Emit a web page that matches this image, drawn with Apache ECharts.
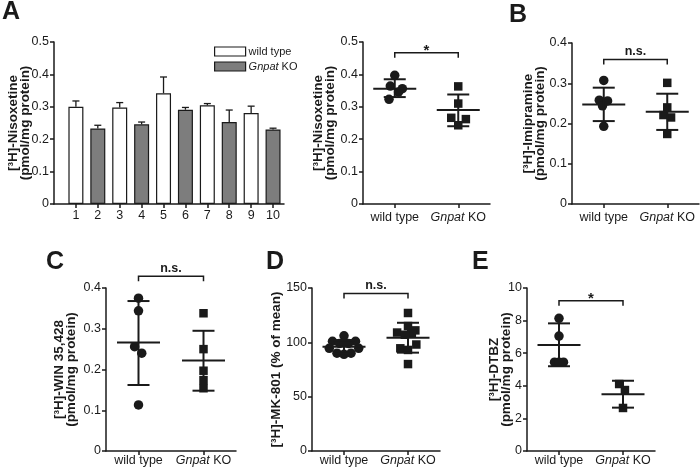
<!DOCTYPE html>
<html lang="en">
<head>
	<meta charset="UTF-8">
	<title>Binding assays</title>
	<style>
		*{
			margin: 0;
			padding: 0;
		}
		#chart{
			width: 700px;
			height: 470px;
			background: #fff;
		}
	</style>
	<script src="https://cdn.jsdelivr.net/npm/echarts@6.0.0/dist/echarts.min.js"></script>
</head>
<body>
	<div id="chart"></div>
	<script>
		var groups = ['wild type', 'Gnpat KO'];

		// A, left: single animals
		var barCats = ['1', '2', '3', '4', '5', '6', '7', '8', '9', '10'];
		var barVals = [0.300, 0.233, 0.298, 0.246, 0.342, 0.291, 0.305, 0.253, 0.281, 0.230];
		var barErr = [0.018, 0.010, 0.015, 0.007, 0.050, 0.007, 0.005, 0.037, 0.021, 0.004];

		// A, right: nisoxetine
		var aWt = [0.397, 0.364, 0.356, 0.346, 0.323];
		var aWtJit = [0, -0.07, 0.12, 0.06, -0.09];
		var aKo = [0.363, 0.310, 0.266, 0.262, 0.243];
		var aKoJit = [0, 0, -0.11, 0.12, 0];
		var aStats = [[0.356, 0.330, 0.385], [0.290, 0.240, 0.338]];

		// B: imipramine
		var bWt = [0.307, 0.258, 0.256, 0.244, 0.193];
		var bWtJit = [0, -0.07, 0.06, -0.02, 0];
		var bKo = [0.301, 0.240, 0.221, 0.215, 0.174];
		var bKoJit = [0, 0, -0.06, 0.06, 0];
		var bStats = [[0.247, 0.206, 0.289], [0.229, 0.184, 0.274]];

		// C: WIN 35,428
		var cWt = [0.375, 0.344, 0.256, 0.240, 0.113];
		var cWtJit = [0, 0, -0.06, 0.05, 0];
		var cKo = [0.338, 0.250, 0.197, 0.174, 0.154];
		var cKoJit = [0, 0, 0, 0, 0];
		var cStats = [[0.266, 0.162, 0.368], [0.222, 0.148, 0.295]];

		// D: MK-801
		var dWt = [106, 101, 101, 99, 99, 94.5, 94.5, 90, 89, 90];
		var dWtJit = [0, -0.18, 0.18, -0.07, 0.07, -0.23, 0.23, -0.11, 0, 0.11];
		var dKo = [127, 115, 111, 109, 108, 107, 98, 94.5, 93, 80];
		var dKoJit = [0, 0, 0.115, -0.17, 0.06, -0.05, 0.13, -0.12, 0, 0];
		var dStats = [[96, 90, 102], [104.3, 90.5, 118]];

		// E: DTBZ
		var eWt = [8.14, 7.05, 5.45, 5.45, 5.45];
		var eWtJit = [0, 0, -0.07, 0, 0.07];
		var eKo = [4.11, 3.74, 2.64];
		var eKoJit = [-0.06, 0.03, 0];
		var eStats = [[6.5, 5.2, 7.83], [3.48, 2.66, 4.31]];

		var sigText = ['*', 'n.s.', 'n.s.', 'n.s.', '*'];
		var sigY = [0.467, 0.359, 0.429, 145, 9.22];

		var font = '"Liberation Sans", Arial, sans-serif';
		var ink = '#1a1a1a';

		function koLabel(s) {
			return s === 'Gnpat KO' ? '{i|Gnpat} KO' : s;
		}

		var panels = [
			{wt: aWt, wtJit: aWtJit, ko: aKo, koJit: aKoJit, stats: aStats, max: 0.5, step: 0.1, dec: 1,
				name: '[³H]-Nisoxetine\n(pmol/mg protein)', gap: 26, lm: 7},
			{wt: bWt, wtJit: bWtJit, ko: bKo, koJit: bKoJit, stats: bStats, max: 0.4, step: 0.1, dec: 1,
				name: '[³H]-Imipramine\n(pmol/mg protein)', gap: 25, lm: 7},
			{wt: cWt, wtJit: cWtJit, ko: cKo, koJit: cKoJit, stats: cStats, max: 0.4, step: 0.1, dec: 1,
				name: '[³H]-WIN 35,428\n(pmol/mg protein)', gap: 28, lm: 3},
			{wt: dWt, wtJit: dWtJit, ko: dKo, koJit: dKoJit, stats: dStats, max: 150, step: 50, dec: 0,
				name: '[³H]-MK-801 (% of mean)', gap: 29, lm: 3},
			{wt: eWt, wtJit: eWtJit, ko: eKo, koJit: eKoJit, stats: eStats, max: 10, step: 2, dec: 0,
				name: '[³H]-DTBZ\n(pmol/mg protein)', gap: 14, lm: 3}
		];

		var grids = [
			{left: 54, top: 42, width: 230, height: 162},
			{left: 363, top: 42, width: 127, height: 162},
			{left: 572, top: 43, width: 127, height: 161},
			{left: 106, top: 288, width: 130, height: 163},
			{left: 312, top: 288, width: 128, height: 163},
			{left: 527, top: 288, width: 128, height: 163}
		];
		grids.forEach(function (g) { g.outerBoundsMode = 'none'; });

		var lineStyle = {color: ink, width: 1.5};

		function yAxisCfg(idx, max, step, dec, name, gap) {
			return {
				type: 'value', gridIndex: idx, min: 0, max: max, interval: step,
				name: name, nameLocation: 'middle', nameRotate: 90, nameGap: gap, nameMoveOverlap: false,
				nameTextStyle: {fontFamily: font, fontWeight: 'bold', fontSize: 13.5, lineHeight: 12.5, color: ink},
				axisLine: {show: true, onZero: false, lineStyle: lineStyle},
				axisTick: {show: true, length: 4, lineStyle: lineStyle},
				axisLabel: {fontFamily: font, fontSize: 12.5, color: ink, margin: 5,
					formatter: function (v) { return v === 0 ? '0' : v.toFixed(dec); }},
				splitLine: {show: false}
			};
		}

		function xAxisCfg(idx, margin) {
			return {
				type: 'value', gridIndex: idx, min: -0.5, max: 1.5,
				axisLine: {show: true, onZero: false, lineStyle: lineStyle},
				axisTick: {show: true, length: 4, customValues: [0, 1], lineStyle: lineStyle},
				axisLabel: {
					customValues: [0, 1], fontFamily: font, fontSize: 12.5, color: ink, margin: margin,
					formatter: function (v) { return koLabel(groups[v]); },
					rich: {i: {fontStyle: 'italic', fontFamily: font, fontSize: 12.5, color: ink}}
				},
				splitLine: {show: false}
			};
		}

		var barTicks = barCats.map(function (c, i) { return i + 1; });
		var xAxes = [{
			type: 'value', gridIndex: 0, min: 0, max: 10.5,
			axisLine: {show: true, onZero: false, lineStyle: lineStyle},
			axisTick: {show: true, length: 4, customValues: barTicks, lineStyle: lineStyle},
			axisLabel: {
				customValues: barTicks, fontFamily: font, fontSize: 12.5, color: ink, margin: 5,
				formatter: function (v) { return barCats[v - 1]; }
			},
			splitLine: {show: false}
		}];
		var yAxes = [yAxisCfg(0, 0.5, 0.1, 1, '[³H]-Nisoxetine\n(pmol/mg protein)', 22)];

		var series = [];
		var wtBars = [], koBars = [];
		barVals.forEach(function (v, i) {
			if (i % 2 === 0) wtBars.push([i + 1, v]); else koBars.push([i + 1, v]);
		});
		series.push({
			name: groups[0], type: 'bar', xAxisIndex: 0, yAxisIndex: 0, barWidth: 15, barGap: '-100%',
			itemStyle: {color: '#ffffff', borderColor: ink, borderWidth: 1.2}, data: wtBars
		});
		series.push({
			name: groups[1], type: 'bar', xAxisIndex: 0, yAxisIndex: 0, barWidth: 15, barGap: '-100%',
			itemStyle: {color: '#7d7d7d', borderColor: ink, borderWidth: 1.2}, data: koBars
		});
		// one-sided error bars on top of the bars
		series.push({
			type: 'custom', xAxisIndex: 0, yAxisIndex: 0, z: 3,
			data: barVals.map(function (v, i) { return [i + 1, v, v + barErr[i]]; }),
			renderItem: function (params, api) {
				var p0 = api.coord([api.value(0), api.value(1)]);
				var p1 = api.coord([api.value(0), api.value(2)]);
				var st = {stroke: ink, lineWidth: 1.3};
				return {type: 'group', children: [
					{type: 'line', shape: {x1: p0[0], y1: p0[1], x2: p1[0], y2: p1[1]}, style: st},
					{type: 'line', shape: {x1: p1[0] - 3.5, y1: p1[1], x2: p1[0] + 3.5, y2: p1[1]}, style: st}
				]};
			}
		});

		function meanSdRender(params, api) {
			var x = api.value(0);
			var pm = api.coord([x, api.value(1)]);
			var pl = api.coord([x, api.value(2)]);
			var ph = api.coord([x, api.value(3)]);
			var st = {stroke: ink, lineWidth: 2};
			return {type: 'group', children: [
				{type: 'line', shape: {x1: pm[0] - 21.5, y1: pm[1], x2: pm[0] + 21.5, y2: pm[1]}, style: st},
				{type: 'line', shape: {x1: pl[0], y1: pl[1], x2: ph[0], y2: ph[1]}, style: st},
				{type: 'line', shape: {x1: pl[0] - 11, y1: pl[1], x2: pl[0] + 11, y2: pl[1]}, style: st},
				{type: 'line', shape: {x1: ph[0] - 11, y1: ph[1], x2: ph[0] + 11, y2: ph[1]}, style: st}
			]};
		}

		panels.forEach(function (p, k) {
			var g = k + 1;
			xAxes.push(xAxisCfg(g, p.lm));
			yAxes.push(yAxisCfg(g, p.max, p.step, p.dec, p.name, p.gap));
			series.push({
				type: 'scatter', xAxisIndex: g, yAxisIndex: g, symbol: 'circle', symbolSize: 9.5,
				itemStyle: {color: ink, opacity: 1}, z: 2,
				data: p.wt.map(function (v, i) { return [p.wtJit[i], v]; })
			});
			series.push({
				type: 'scatter', xAxisIndex: g, yAxisIndex: g, symbol: 'rect', symbolSize: 8.5,
				itemStyle: {color: ink, opacity: 1}, z: 2,
				data: p.ko.map(function (v, i) { return [1 + p.koJit[i], v]; })
			});
			series.push({
				type: 'custom', xAxisIndex: g, yAxisIndex: g, z: 3, renderItem: meanSdRender,
				data: p.stats.map(function (s, i) { return [i, s[0], s[1], s[2]]; })
			});
			// significance bracket
			series.push({
				type: 'custom', xAxisIndex: g, yAxisIndex: g, z: 3, clip: false,
				renderItem: function (params, api) {
					var a = api.coord([0, sigY[k]]);
					var b = api.coord([1, sigY[k]]);
					var star = sigText[k] === '*';
					return {type: 'group', children: [
						{type: 'polyline', shape: {points: [[a[0], a[1] + 5], [a[0], a[1]], [b[0], b[1]], [b[0], b[1] + 5]]},
							style: {stroke: ink, lineWidth: 1.5, fill: null}},
						{type: 'text', x: (a[0] + b[0]) / 2, y: star ? a[1] - 9 : a[1] - 1,
							style: {text: sigText[k], fill: ink,
								font: (star ? 'bold 15px ' : 'bold 12.5px ') + font,
								align: 'center', verticalAlign: star ? 'top' : 'bottom'}}
					]};
				},
				data: [[0.5, sigY[k]]]
			});
		});

		function letter(t, x, y) {
			return {type: 'text', left: x, top: y, style: {text: t, font: 'bold 25px ' + font, fill: ink}};
		}

		var chart = echarts.init(document.getElementById('chart'));
		chart.setOption({
			animation: false,
			backgroundColor: '#ffffff',
			grid: grids,
			xAxis: xAxes,
			yAxis: yAxes,
			legend: {
				left: 209, top: 41, orient: 'vertical', icon: 'rect', itemWidth: 31, itemHeight: 9, itemGap: 4,
				selectedMode: false, data: groups, formatter: koLabel,
				itemStyle: {borderColor: ink, borderWidth: 1.2},
				textStyle: {fontFamily: font, fontSize: 11, color: ink, padding: [0, 0, 0, -2],
					rich: {i: {fontStyle: 'italic', fontFamily: font, fontSize: 11, color: ink}}}
			},
			graphic: [
				letter('A', 2, 0), letter('B', 509, 3), letter('C', 46, 250),
				letter('D', 266, 250), letter('E', 472, 250)
			],
			series: series
		});
	</script>
</body>
</html>
